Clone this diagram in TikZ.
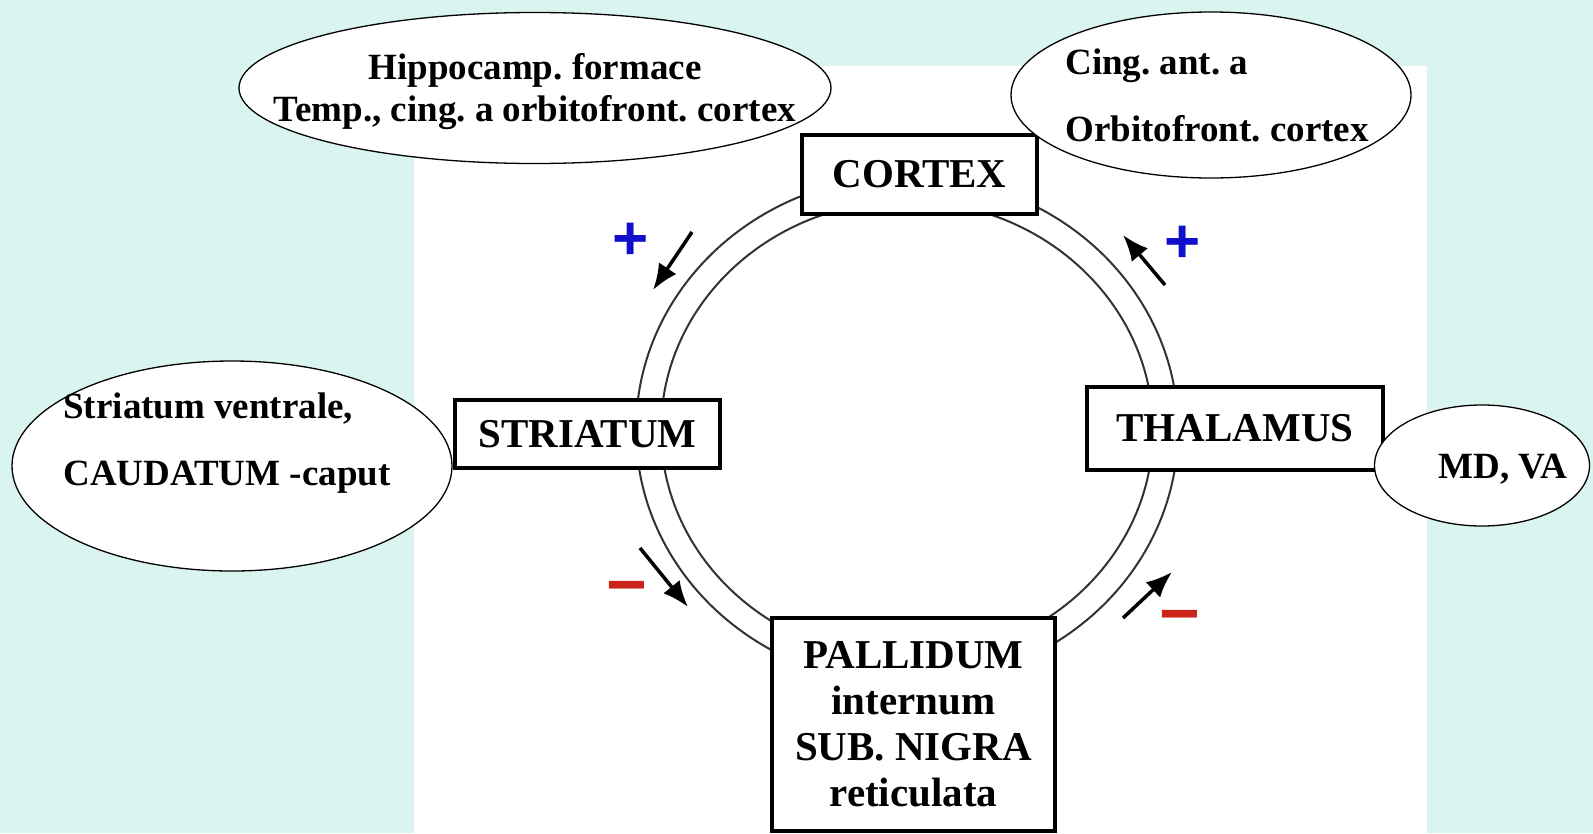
\documentclass[tikz,border=0pt]{standalone}
\usepackage{fontspec}
\setmainfont{Liberation Serif}
\setsansfont{Liberation Sans}
\usepackage{xcolor}
\usetikzlibrary{arrows.meta}
\usetikzlibrary{shapes.geometric}
\definecolor{bgcyan}{RGB}{218,244,240}
\definecolor{plusblue}{RGB}{16,16,204}
\definecolor{minusred}{RGB}{204,36,24}
\frenchspacing

\begin{document}
\begin{tikzpicture}[
			     x=1pt, y=-1pt,
			     area/.style={draw=black, line width=3.5pt, fill=white, inner sep=0pt, align=center,
			                  font=\fontsize{41}{46}\selectfont\bfseries},
			     bubble/.style={ellipse, draw=black, line width=1.3pt, fill=white, inner sep=0pt},
			     bubble text/.style={inner sep=0pt, font=\fontsize{37}{42}\selectfont\bfseries},
			     loop line/.style={draw=black!80, line width=2pt},
			     sign arrow/.style={-{Latex[length=26pt,width=21pt]}, line width=3.5pt},
			     plus/.style={inner sep=0pt, text=plusblue, font=\fontsize{62}{62}\selectfont\sffamily\bfseries},
			     minus/.style={inner sep=0pt, text=minusred, font=\fontsize{70}{70}\selectfont\sffamily\bfseries}
			     ]
\useasboundingbox (0,0) rectangle (1593,833);
\fill[bgcyan] (0,0) rectangle (1593,833);
\fill[white] (414,66) rectangle (1427,833);

% the loop
\coordinate (hub) at (907,430);
\draw[loop line] (hub) ellipse [x radius=271, y radius=254];
\draw[loop line] (hub) ellipse [x radius=246, y radius=229];

\node[area, minimum width=235pt, minimum height=79pt] (cortex) at (919.5,174.5) {CORTEX};
\node[area, minimum width=265pt, minimum height=68pt] (striatum) at (587.5,434) {STRIATUM};
\node[area, minimum width=296pt, minimum height=83pt] (thalamus) at (1235,428.5) {THALAMUS};
\node[area, minimum width=283pt, minimum height=213pt] (pallidum) at (913.5,724.5) {PALLIDUM\\internum\\SUB. NIGRA\\reticulata};

\coordinate (cs-a) at (692,232);
\coordinate (cs-b) at (653,290);
\coordinate (sp-a) at (640,548);
\coordinate (sp-b) at (688,607);
\coordinate (pt-a) at (1123,618);
\coordinate (pt-b) at (1172,572);
\coordinate (tc-a) at (1165,285);
\coordinate (tc-b) at (1123,235);
\path (cs-a) edge[sign arrow] (cs-b);
\path (sp-a) edge[sign arrow] (sp-b);
\path (pt-a) edge[sign arrow] (pt-b);
\path (tc-a) edge[sign arrow] (tc-b);

\node[plus] (plus-cs) at (631,241) {+};
\node[plus] (plus-tc) at (1183,244) {+};
\node[minus] (minus-sp) at (627,595) {−};
\node[minus] (minus-pt) at (1180,624) {−};

\node[bubble, minimum width=592pt, minimum height=151pt] (hippo) at (535,88) {};
\node[bubble text, align=center] (hippo-text) at ([yshift=-4pt]hippo) {Hippocamp. formace\\Temp., cing. a orbitofront. cortex};
\node[bubble, minimum width=400pt, minimum height=166pt] (cingant) at (1211,95) {};
\node[bubble text, align=left, font=\fontsize{37}{67}\selectfont\bfseries] (cingant-text) at ([xshift=6pt]cingant) {Cing. ant. a\\Orbitofront. cortex};
\node[bubble, minimum width=440pt, minimum height=210pt] (caudatum) at (232,466) {};
\node[bubble text, align=left, font=\fontsize{37}{67}\selectfont\bfseries] (caudatum-text) at ([xshift=-5pt,yshift=23pt]caudatum) {Striatum ventrale,\\CAUDATUM -caput};
\node[bubble, minimum width=215pt, minimum height=121pt] (mdva) at (1482,465.5) {};
\node[bubble text] (mdva-text) at ([xshift=21pt,yshift=-4pt]mdva) {MD, VA};
\end{tikzpicture}
\end{document}
